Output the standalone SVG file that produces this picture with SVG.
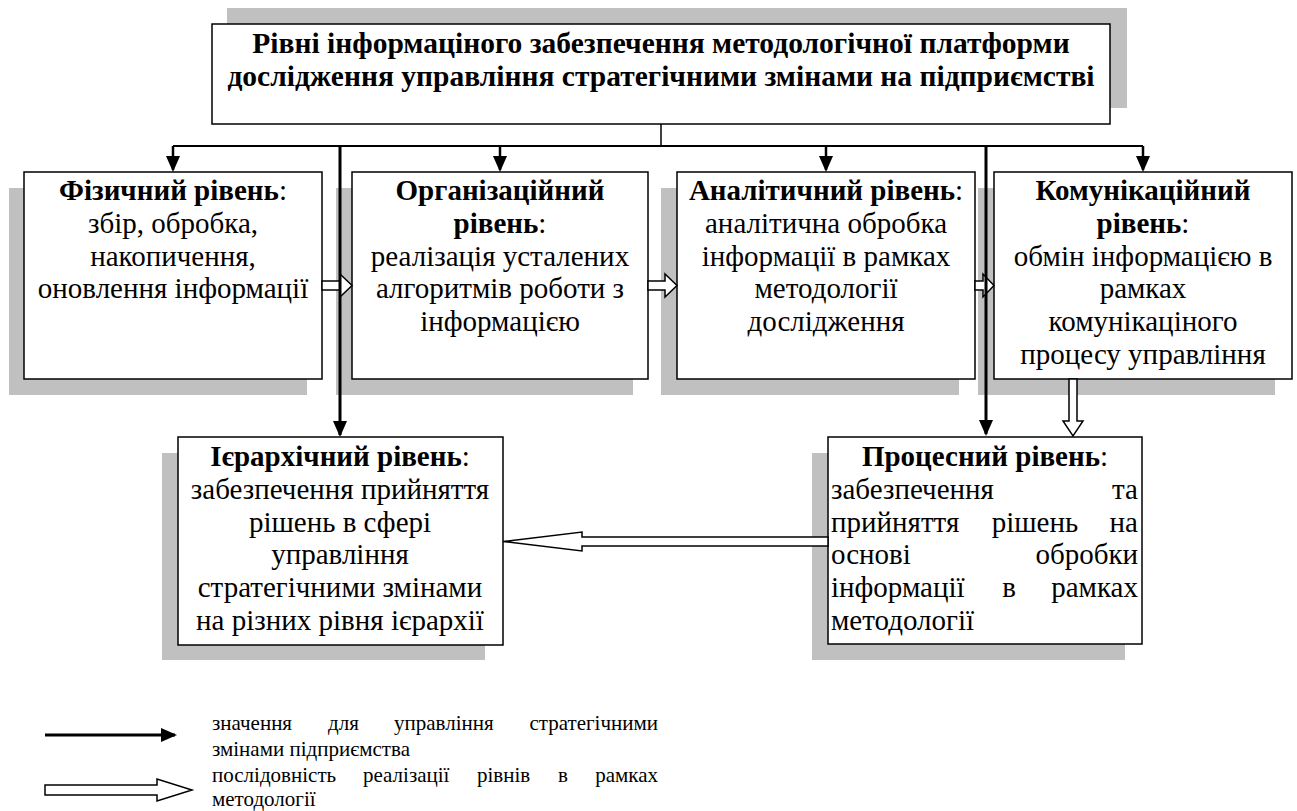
<svg xmlns="http://www.w3.org/2000/svg" width="1297" height="811" viewBox="0 0 1297 811">
<style>
.sh{fill:#c0c0c0}
.bx{fill:#fff;stroke:#000;stroke-width:1.5}
text{font-family:'Liberation Serif','DejaVu Serif',serif;fill:#000}
.t{font-size:29px;text-anchor:middle}
.tt{font-size:29.5px}
.s{text-anchor:start}
.e{text-anchor:end}
.b{font-weight:bold}
.lg{font-size:21px}
.ln{stroke:#000;fill:none}
.ha{fill:#fff;stroke:#000;stroke-width:1.5}
</style>
<defs>
<marker id="ah" markerUnits="userSpaceOnUse" markerWidth="16" markerHeight="14" viewBox="0 0 16 14" refX="14" refY="7" orient="auto"><path d="M0,0 L16,7 L0,14 z" fill="#000"/></marker>
</defs>

<g id="title">
<rect class="sh" x="227" y="8" width="900" height="100"/>
<rect class="bx" x="212" y="24" width="898" height="100"/>
<text class="t tt b" x="661" y="53">Рівні інформаціного забезпечення методологічної платформи</text>
<text class="t tt b" x="661" y="86">дослідження управління стратегічними змінами на підприємстві</text>
</g>

<g id="fizychnyi">
<rect class="sh" x="9" y="188" width="298" height="207"/>
<rect class="bx" x="24" y="172" width="298" height="207"/>
<text class="t" x="173" y="200"><tspan class="b">Фізичний рівень</tspan>:</text>
<text class="t" x="173" y="233">збір, обробка,</text>
<text class="t" x="173" y="266">накопичення,</text>
<text class="t" x="173" y="298">оновлення інформації</text>
</g>

<g id="orhanizatsiinyi">
<rect class="sh" x="336" y="188" width="297" height="207"/>
<rect class="bx" x="352" y="172" width="296" height="207"/>
<text class="t b" x="500" y="200">Організаційний</text>
<text class="t" x="500" y="233"><tspan class="b">рівень</tspan>:</text>
<text class="t" x="500" y="266">реалізація усталених</text>
<text class="t" x="500" y="298">алгоритмів роботи з</text>
<text class="t" x="500" y="331">інформацією</text>
</g>

<g id="analitychnyi">
<rect class="sh" x="661" y="188" width="298" height="207"/>
<rect class="bx" x="677" y="172" width="298" height="207"/>
<text class="t" x="826" y="200"><tspan class="b">Аналітичний рівень</tspan>:</text>
<text class="t" x="826" y="233">аналітична обробка</text>
<text class="t" x="826" y="266">інформації в рамках</text>
<text class="t" x="826" y="298">методології</text>
<text class="t" x="826" y="331">дослідження</text>
</g>

<g id="komunikatsiinyi">
<rect class="sh" x="978" y="188" width="297" height="207"/>
<rect class="bx" x="994" y="172" width="298" height="207"/>
<text class="t b" x="1143" y="200">Комунікаційний</text>
<text class="t" x="1143" y="233"><tspan class="b">рівень</tspan>:</text>
<text class="t" x="1143" y="266">обмін інформацією в</text>
<text class="t" x="1143" y="298">рамках</text>
<text class="t" x="1143" y="331">комунікаціного</text>
<text class="t" x="1143" y="364">процесу управління</text>
</g>

<g id="iierarkhichnyi">
<rect class="sh" x="162" y="453" width="323" height="207"/>
<rect class="bx" x="178" y="437" width="325" height="208"/>
<text class="t" x="340" y="466"><tspan class="b">Ієрархічний рівень</tspan>:</text>
<text class="t" x="340" y="499">забезпечення прийняття</text>
<text class="t" x="340" y="532">рішень в сфері</text>
<text class="t" x="340" y="564">управління</text>
<text class="t" x="340" y="597">стратегічними змінами</text>
<text class="t" x="340" y="630">на різних рівня ієрархії</text>
</g>

<g id="protsesnyi">
<rect class="sh" x="812" y="453" width="313" height="207"/>
<rect class="bx" x="828" y="437" width="314" height="207"/>
<text class="t" x="985" y="466"><tspan class="b">Процесний рівень</tspan>:</text>
<text class="t s" x="831" y="499">забезпечення</text>
<text class="t e" x="1138" y="499">та</text>
<text class="t s" x="831" y="532">прийняття</text>
<text class="t" x="1035" y="532">рішень</text>
<text class="t e" x="1138" y="532">на</text>
<text class="t s" x="831" y="564">основі</text>
<text class="t e" x="1138" y="564">обробки</text>
<text class="t s" x="831" y="597">інформації</text>
<text class="t" x="1009" y="597">в</text>
<text class="t e" x="1138" y="597">рамках</text>
<text class="t s" x="831" y="630">методології</text>
</g>

<g id="connectors">
<path class="ln" stroke-width="1.5" d="M661,124 V146"/>
<path class="ln" stroke-width="2" d="M173,146 H1143"/>
<path class="ln" stroke-width="2.5" marker-end="url(#ah)" d="M173,146 V170"/>
<path class="ln" stroke-width="2.5" marker-end="url(#ah)" d="M500,146 V170"/>
<path class="ln" stroke-width="2.5" marker-end="url(#ah)" d="M826,146 V170"/>
<path class="ln" stroke-width="2.5" marker-end="url(#ah)" d="M1143,146 V170"/>
<polygon class="ha" points="322,281 340,281 340,274 352,285.5 340,297 340,290 322,290"/>
<polygon class="ha" points="648,281 665,281 665,274 677,285.5 665,297 665,290 648,290"/>
<polygon class="ha" points="975,281 983,281 983,274 994,285.5 983,297 983,290 975,290"/>
<polygon class="ha" points="1069,379 1077,379 1077,421 1083,421 1073,436 1063,421 1069,421"/>
<polygon class="ha" points="828,537 582,537 582,532 503,541.5 582,551 582,546 828,546"/>
<path class="ln" stroke-width="3" marker-end="url(#ah)" d="M340,146 V435"/>
<path class="ln" stroke-width="3" marker-end="url(#ah)" d="M986,146 V434"/>
</g>

<g id="legend">
<path class="ln" stroke-width="3" marker-end="url(#ah)" d="M45,735 H175"/>
<polygon class="ha" points="45,785 157,785 157,779 192,790 157,801 157,795 45,795"/>
<text class="lg" x="212" y="730">значення</text>
<text class="lg" x="328" y="730">для</text>
<text class="lg" x="394" y="730">управління</text>
<text class="lg" x="658" y="730" text-anchor="end">стратегічними</text>
<text class="lg" x="212" y="756">змінами підприємства</text>
<text class="lg" x="212" y="782">послідовність</text>
<text class="lg" x="363" y="782">реалізації</text>
<text class="lg" x="477" y="782">рівнів</text>
<text class="lg" x="558" y="782">в</text>
<text class="lg" x="658" y="782" text-anchor="end">рамках</text>
<text class="lg" x="212" y="806">методології</text>
</g>
</svg>
